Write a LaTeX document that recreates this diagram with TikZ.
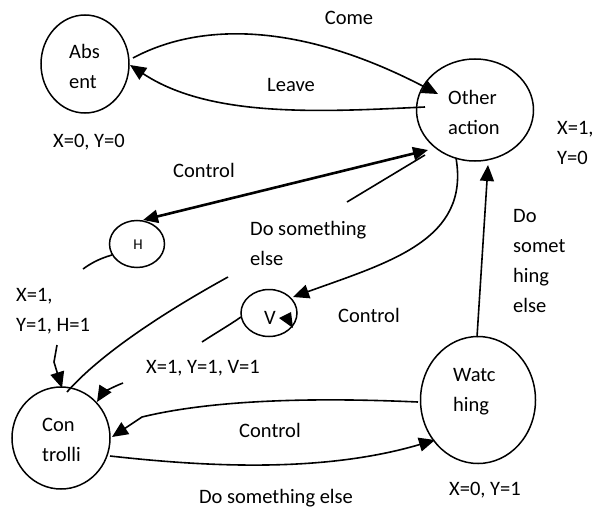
\documentclass[tikz,border=0pt]{standalone}
\usepackage{fontspec}
\setmainfont{Carlito}
\usetikzlibrary{shapes.geometric,arrows.meta}
\begin{document}
\begin{tikzpicture}[x=1pt,y=-1pt,
  stnode/.style={draw,ellipse,line width=1.5pt,inner sep=0pt},
  lbl/.style={font=\fontsize{20.5}{30}\selectfont,inner sep=0pt},
  blk/.style={lbl,align=left,anchor=west},
  ln/.style={line width=1.6pt},
  arr/.style={ln,-{Triangle[length=16pt,width=14pt]}},
  arrboth/.style={line width=2.6pt,{Triangle[length=15pt,width=13pt]}-{Triangle[length=15pt,width=13pt]}},
]
\useasboundingbox (0,0) rectangle (596,508);

% states
\node[stnode,minimum width=88pt,minimum height=98pt] (abs) at (85,64) {};
\node[stnode,minimum width=117pt,minimum height=102pt] (other) at (475,110) {};
\node[stnode,minimum width=55pt,minimum height=47pt] (h) at (137,244) {};
\node[stnode,minimum width=56pt,minimum height=47pt] (v) at (269,313) {};
\node[stnode,minimum width=98pt,minimum height=102pt] (ctrl) at (61,438) {};
\node[stnode,minimum width=115pt,minimum height=127pt] (watch) at (478,400) {};

% state names
\node[blk] (absT) at (69,66) {Abs\\ent};
\node[blk] (otherT) at (448,112) {Other\\action};
\node[lbl] (hT) at (138,245) {\fontsize{15}{18}\selectfont H};
\node[lbl] (vT) at (270,318) {V};
\node[blk] (ctrlT) at (42,440) {Con\\trolli};
\node[blk] (watchT) at (453,392) {Watc\\hing};

% outputs
\node[lbl] (o1) at (89,142) {X=0, Y=0};
\node[blk] (o2) at (557,143) {X=1,\\Y=0};
\node[blk] (o3) at (16,311) {X=1,\\Y=1, H=1};
\node[lbl] (o4) at (203,368) {X=1, Y=1, V=1};
\node[lbl] (o5) at (485,490) {X=0, Y=1};

% transition labels
\node[lbl] (tCome) at (349,18) {Come};
\node[lbl] (tLeave) at (291,85) {Leave};
\node[lbl] (tCtrl1) at (204,170) {Control};
\node[blk] (tDo1) at (250,243) {Do something\\else};
\node[lbl] (tCtrl2) at (369,315) {Control};
\node[blk] (tDo2) at (513,261) {Do\\somet\\hing\\else};
\node[lbl] (tCtrl3) at (270,430) {Control};
\node[lbl] (tDo3) at (276,498) {Do something else};

% free ends of the open strokes
\coordinate (hs) at (83,269);
\coordinate (vs) at (202,342);
\coordinate (up1) at (228,277);
\coordinate (up2) at (347,202);
\coordinate (z0) at (57,345);
\coordinate (a0) at (123,383);

% Come / Leave
\draw[arr] ([shift={(48,-6)}]abs.center) .. controls (200,22) and (300,22) .. ([shift={(-37,-16)}]other.center);
\draw[arr] ([shift={(-50,-3)}]other.center) .. controls (320,112) and (210,118) .. ([shift={(45,1)}]abs.center);

% Control to H, and the stroke towards Other action
\draw[arrboth] ([shift={(-47,40)}]other.center) -- ([shift={(6,-24)}]h.center);
\draw[ln] (up2) -- ([shift={(-50,45)}]other.center);
\draw[ln] ([shift={(-25,11)}]h.center) .. controls (98,259) and (90,264) .. (hs);

% Control to V
\draw[arr] ([shift={(-19,48)}]other.center) .. controls (470,240) and (390,262) .. ([shift={(24,-16)}]v.center);
\draw[ln] ([shift={(-28,4)}]v.center) .. controls (228,326) and (214,334) .. (vs);
\fill ([shift={(10,5)}]v.center) -- ([shift={(22,-1)}]v.center) -- ([shift={(24,15)}]v.center) -- cycle;

% Controlli
\draw[ln] ([shift={(6,-46)}]ctrl.center) .. controls (95,360) and (150,320) .. (up1);
\draw[arr] (z0) -- (54,362) -- (57,372) -- ([shift={(1,-50)}]ctrl.center);
\draw[arr] (a0) .. controls (110,388) and (102,394) .. ([shift={(36,-36)}]ctrl.center);

% Watching <-> Controlli, Watching -> Other action
\draw[arr] ([shift={(-60,2)}]watch.center) .. controls (330,398) and (220,398) .. (142,417) -- ([shift={(51,-1)}]ctrl.center);
\draw[arr] ([shift={(49,18)}]ctrl.center) .. controls (200,466) and (320,474) .. ([shift={(-43,40)}]watch.center);
\draw[arr] ([shift={(-1,-63)}]watch.center) -- ([shift={(13,55)}]other.center);
\end{tikzpicture}
\end{document}
